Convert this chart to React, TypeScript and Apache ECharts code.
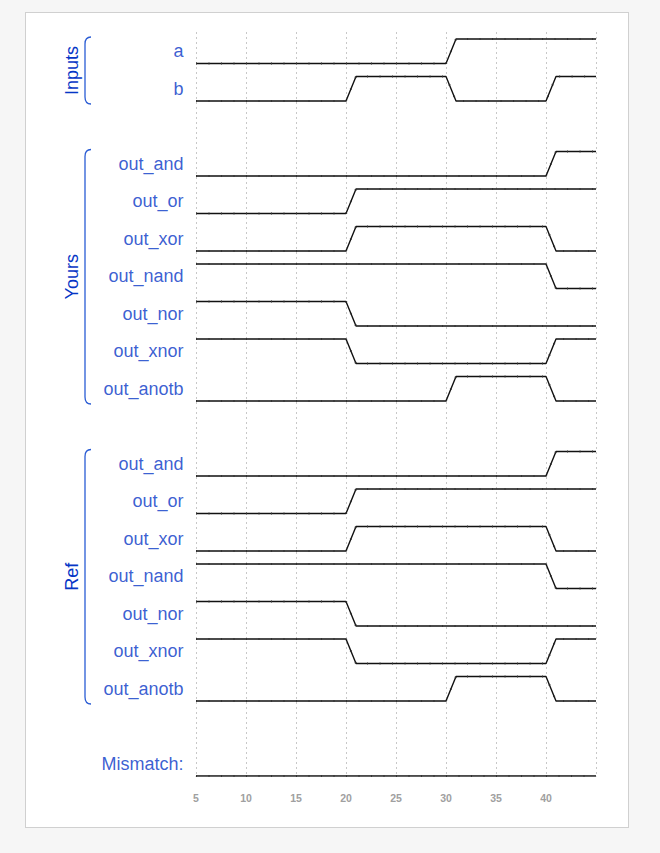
import React, { useEffect, useRef } from 'react';
import * as echarts from 'echarts';

// interval boundaries of the simulation time axis
const timeBreaks = [5, 20, 30, 40, 45];
const xTicks = [5, 10, 15, 20, 25, 30, 35, 40, 45];

// rows, top to bottom ('' = spacer row)
const rowNames = [
  'a', 'b', '',
  'out_and', 'out_or', 'out_xor', 'out_nand', 'out_nor', 'out_xnor', 'out_anotb', '',
  'out_and', 'out_or', 'out_xor', 'out_nand', 'out_nor', 'out_xnor', 'out_anotb', '',
  'Mismatch:',
];

// levels per interval [5-20, 20-30, 30-40, 40-45]
const sigA = [0, 0, 1, 1];
const sigB = [0, 1, 0, 1];
const yoursAnd = [0, 0, 0, 1];
const yoursOr = [0, 1, 1, 1];
const yoursXor = [0, 1, 1, 0];
const yoursNand = [1, 1, 1, 0];
const yoursNor = [1, 0, 0, 0];
const yoursXnor = [1, 0, 0, 1];
const yoursAnotb = [0, 0, 1, 0];
const refAnd = [0, 0, 0, 1];
const refOr = [0, 1, 1, 1];
const refXor = [0, 1, 1, 0];
const refNand = [1, 1, 1, 0];
const refNor = [1, 0, 0, 0];
const refXnor = [1, 0, 0, 1];
const refAnotb = [0, 0, 1, 0];
const mismatch = [0, 0, 0, 0];

const rowLevels: (number[] | null)[] = [
  sigA, sigB, null,
  yoursAnd, yoursOr, yoursXor, yoursNand, yoursNor, yoursXnor, yoursAnotb, null,
  refAnd, refOr, refXor, refNand, refNor, refXnor, refAnotb, null,
  mismatch,
];

const groupNames = ['Inputs', 'Yours', 'Ref'];
const groupFirstRow = [0, 3, 11];
const groupLastRow = [1, 9, 17];

const PITCH = 1.5;
const HIGH = 0.98;
const TRANS = 1;
const FONT = 'Arial, "Liberation Sans", Helvetica, sans-serif';
const BLUE = '#0636c6';
const BRACKET = '#2a5cd4';
const FS = 18;

function wavePoints(row: number, levels: number[]) {
  const base = -PITCH * row;
  const pts: number[][] = [[timeBreaks[0], base + levels[0] * HIGH]];
  for (let k = 1; k < levels.length; k++) {
    pts.push([timeBreaks[k], base + levels[k - 1] * HIGH]);
    pts.push([timeBreaks[k] + TRANS, base + levels[k] * HIGH]);
  }
  pts.push([timeBreaks[timeBreaks.length - 1], base + levels[levels.length - 1] * HIGH]);
  return pts;
}

export default function App() {
  const ref = useRef<HTMLDivElement>(null);
  useEffect(() => {
    if (!ref.current) return;
    const chart = echarts.init(ref.current, undefined, { renderer: 'svg' });
    const series: any[] = [];
    rowLevels.forEach((lv, row) => {
      if (!lv) return;
      const pts = wavePoints(row, lv);
      series.push({
        type: 'line',
        data: pts,
        symbol: 'none',
        silent: true,
        z: 3,
        lineStyle: { color: '#111', width: 1.4 },
      });
      series.push({
        type: 'line',
        data: pts,
        symbol: 'none',
        silent: true,
        z: 4,
        lineStyle: { color: '#333', width: 2.1, type: [1, 11.5] },
      });
    });
    const labelData = rowNames
      .map((n, row) => ({ n, row }))
      .filter((d) => d.n !== '')
      .map((d) => [timeBreaks[0], -PITCH * d.row + HIGH / 2, d.n]);
    series.push({
      type: 'scatter',
      data: labelData,
      symbolSize: 1,
      itemStyle: { color: 'rgba(0,0,0,0)' },
      silent: true,
      label: {
        show: true,
        position: 'left',
        distance: 12,
        formatter: (p: any) => p.value[2],
        color: BLUE,
        fontSize: FS,
        fontFamily: FONT,
      },
    });
    series.push({
      type: 'custom',
      clip: false,
      silent: true,
      data: groupNames.map((g, i) => [groupFirstRow[i], groupLastRow[i], i]),
      renderItem: (params: any, api: any) => {
        const first = api.value(0);
        const last = api.value(1);
        const idx = api.value(2);
        const top = api.coord([timeBreaks[0], -PITCH * first + HIGH]);
        const bot = api.coord([timeBreaks[0], -PITCH * last]);
        const xl = top[0] - 111;
        const xe = xl + 6;
        const y0 = top[1] - 2;
        const y1 = bot[1] + 3;
        const d = `M ${xe} ${y0} Q ${xl} ${y0} ${xl} ${y0 + 7} L ${xl} ${y1 - 7} Q ${xl} ${y1} ${xe} ${y1}`;
        return {
          type: 'group',
          children: [
            {
              type: 'path',
              shape: { pathData: d },
              style: { stroke: BRACKET, fill: 'none', lineWidth: 1.3 },
            },
            {
              type: 'text',
              x: xl - 13,
              y: (y0 + y1) / 2,
              rotation: Math.PI / 2,
              style: {
                text: groupNames[idx],
                fill: BLUE,
                font: `${FS}px ${FONT}`,
                align: 'center',
                verticalAlign: 'middle',
                textAlign: 'center',
                textVerticalAlign: 'middle',
              },
            },
          ],
        };
      },
    });
    chart.setOption({
      animation: false,
      grid: { left: 196, right: 64, top: 32, bottom: 77 },
      xAxis: {
        type: 'value',
        min: xTicks[0],
        max: xTicks[xTicks.length - 1],
        interval: 5,
        axisLine: { show: true, onZero: false, lineStyle: { color: '#ccc' } },
        axisTick: { show: false },
        axisLabel: {
          color: '#a0a0a0',
          fontWeight: 'bold',
          fontSize: 10.5,
          fontFamily: FONT,
          margin: 16,
          showMaxLabel: false,
        },
        splitLine: { show: true, lineStyle: { color: '#c8c8c8', type: [2, 3], width: 1 } },
      },
      yAxis: {
        type: 'value',
        min: -PITCH * (rowNames.length - 1),
        max: 1.26,
        show: false,
      },
      series,
    });
    return () => chart.dispose();
  }, []);
  return (
    <div style={{ position: 'fixed', left: 0, top: 0, width: 660, height: 853, background: '#f6f6f6' }}>
      <div
        style={{
          position: 'absolute',
          left: 25,
          top: 12,
          width: 604,
          height: 816,
          background: '#fff',
          border: '1px solid #d0d0d0',
          boxSizing: 'border-box',
        }}
      />
      <div ref={ref} style={{ position: 'absolute', left: 0, top: 0, width: 660, height: 853 }} />
    </div>
  );
}
